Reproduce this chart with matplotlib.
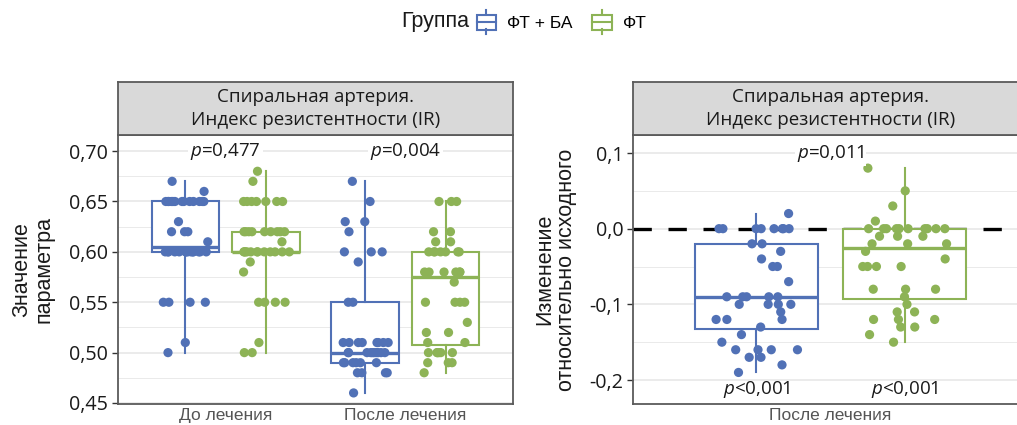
import numpy as np
import matplotlib
matplotlib.use("Agg")
import matplotlib.pyplot as plt
from matplotlib.legend_handler import HandlerBase
from matplotlib.patches import Rectangle, Patch
from matplotlib.lines import Line2D
from matplotlib.ticker import MultipleLocator, FuncFormatter

# ---- data -----------------------------------------------------------------
groups = ["ФТ + БА", "ФТ"]
timepoints = ["До лечения", "После лечения"]
panel_title = "Спиральная артерия.\nИндекс резистентности (IR)"

# IR values (level, number of patients at that level)
ir_before_ftba_levels = [0.50, 0.51, 0.55, 0.60, 0.61, 0.62, 0.63, 0.65, 0.66, 0.67]
ir_before_ftba_counts = [1, 1, 4, 14, 1, 3, 1, 13, 1, 1]

ir_before_ft_levels = [0.50, 0.51, 0.55, 0.58, 0.59, 0.60, 0.61, 0.62, 0.65, 0.67, 0.68]
ir_before_ft_counts = [2, 1, 4, 1, 1, 12, 1, 9, 7, 1, 1]

ir_after_ftba_levels = [0.46, 0.48, 0.49, 0.50, 0.51, 0.55, 0.59, 0.60, 0.62, 0.63, 0.65, 0.67]
ir_after_ftba_counts = [1, 4, 6, 10, 8, 2, 1, 3, 1, 2, 1, 1]

ir_after_ft_levels = [0.48, 0.49, 0.50, 0.51, 0.52, 0.53, 0.55, 0.57, 0.58, 0.60, 0.61, 0.62, 0.65]
ir_after_ft_counts = [1, 3, 6, 2, 2, 1, 4, 1, 6, 7, 2, 2, 3]

# change of IR relative to baseline
change_ftba_levels = [-0.19, -0.18, -0.17, -0.16, -0.15, -0.14, -0.13, -0.12, -0.11,
                      -0.10, -0.09, -0.07, -0.05, -0.04, -0.03, -0.02, 0.00, 0.02]
change_ftba_counts = [1, 1, 2, 4, 1, 1, 1, 3, 1, 4, 5, 1, 2, 1, 1, 2, 8, 1]

change_ft_levels = [-0.15, -0.14, -0.13, -0.12, -0.11, -0.10, -0.09, -0.08, -0.05,
                    -0.04, -0.03, -0.02, -0.01, 0.00, 0.01, 0.03, 0.05, 0.08]
change_ft_counts = [1, 1, 2, 3, 2, 1, 1, 3, 4, 1, 1, 3, 3, 10, 1, 1, 1, 1]

p_between_groups = ["0,477", "0,004"]
p_change_between = "0,011"
p_change_within = ["<0,001", "<0,001"]

# ---- style ----------------------------------------------------------------
colors = ["#5171b6", "#8db356"]
grid_col = "#e6e6e6"
frame_col = "#5a5a5a"
narrow = ["Liberation Sans Narrow", "Liberation Sans", "DejaVu Sans"]
plt.rcParams["font.family"] = ["Open Sans", "DejaVu Sans"]
plt.rcParams["mathtext.fontset"] = "custom"
plt.rcParams["mathtext.it"] = "Open Sans:italic"
plt.rcParams["mathtext.rm"] = "Open Sans"

W, H = 1017, 425
fig = plt.figure(figsize=(W / 100, H / 100), dpi=100)


def frac_box(x0, y0, x1, y1):
    return [x0 / W, 1 - y1 / H, (x1 - x0) / W, (y1 - y0) / H]


def expand(levels, counts):
    return np.repeat(np.asarray(levels, float), counts)


rng = np.random.default_rng(11)
dodge = 0.225
box_w = 0.375
jit = 0.13


def draw_group(ax, values, pos, color):
    ax.boxplot(values, positions=[pos], widths=box_w, whis=(0, 100),
               showfliers=False, showcaps=False, patch_artist=True,
               boxprops=dict(facecolor="white", edgecolor=color, linewidth=1.5),
               medianprops=dict(color=color, linewidth=2.4),
               whiskerprops=dict(color=color, linewidth=1.5),
               zorder=3, manage_ticks=False)
    xs = pos + rng.uniform(-jit, jit, len(values))
    ax.scatter(xs, values, s=44, color=color, edgecolors="none", zorder=4)


def style_axes(ax, open_right=False):
    ax.set_facecolor("white")
    ax.grid(axis="y", which="major", color=grid_col, linewidth=1.1, zorder=0)
    ax.grid(axis="y", which="minor", color=grid_col, linewidth=0.6, zorder=0)
    ax.grid(axis="x", visible=False)
    ax.set_axisbelow(True)
    for sp in ax.spines.values():
        sp.set_color(frame_col)
        sp.set_linewidth(1.3)
    if open_right:
        ax.spines["right"].set_visible(False)
    ax.tick_params(axis="y", which="major", length=4, width=1.0, color="#333333",
                   labelsize=14.2, labelcolor="#1a1a1a", pad=3)
    ax.tick_params(axis="y", which="minor", length=0)
    ax.tick_params(axis="x", length=0, labelsize=12.5, labelcolor="#555555", pad=3)
    for lab in ax.get_xticklabels():
        lab.set_fontfamily(["Liberation Sans", "DejaVu Sans"])


def strip(x0, x1, open_right=False):
    sax = fig.add_axes(frac_box(x0, 82, x1, 135))
    sax.set_facecolor("#d9d9d9")
    sax.set_xticks([])
    sax.set_yticks([])
    for sp in sax.spines.values():
        sp.set_color(frame_col)
        sp.set_linewidth(1.3)
    if open_right:
        sax.spines["right"].set_visible(False)
    sax.text(0.5, 0.5, panel_title, ha="center", va="center", fontsize=13.5,
             color="#1a1a1a", linespacing=1.3, transform=sax.transAxes)


comma = lambda d: FuncFormatter(lambda v, _: f"{v:.{d}f}".replace(".", ","))

# ---- left panel: IR before / after treatment --------------------------------
ax1 = fig.add_axes(frac_box(118, 135, 513, 404))
before = [expand(ir_before_ftba_levels, ir_before_ftba_counts),
          expand(ir_before_ft_levels, ir_before_ft_counts)]
after = [expand(ir_after_ftba_levels, ir_after_ftba_counts),
         expand(ir_after_ft_levels, ir_after_ft_counts)]
for ci, series in enumerate([before, after]):
    for gi, vals in enumerate(series):
        draw_group(ax1, vals, ci + 1 + (gi * 2 - 1) * dodge, colors[gi])
ax1.set_xlim(0.4, 2.6)
ax1.set_ylim(0.449, 0.716)
ax1.set_xticks([1, 2])
ax1.set_xticklabels(timepoints)
ax1.yaxis.set_major_locator(MultipleLocator(0.05))
ax1.yaxis.set_minor_locator(MultipleLocator(0.025))
ax1.yaxis.set_major_formatter(comma(2))
style_axes(ax1)
for ci, p in enumerate(p_between_groups):
    ax1.text(ci + 1, 0.70, f"$p$={p}", ha="center", va="center", fontsize=13.5,
             color="#1a1a1a", zorder=5,
             bbox=dict(facecolor="white", edgecolor="none", pad=1.5))
ax1.set_ylabel("Значение\nпараметра", fontsize=15.5, color="#1a1a1a",
               family=["Liberation Sans", "DejaVu Sans"], linespacing=1.05)
ax1.yaxis.set_label_coords(-0.215, 0.5)
ax1.yaxis.label.set_va("center")
strip(118, 513)

# ---- right panel: change relative to baseline ------------------------------
ax2 = fig.add_axes(frac_box(633, 135, 1028, 404))
changes = [expand(change_ftba_levels, change_ftba_counts),
           expand(change_ft_levels, change_ft_counts)]
ax2.axhline(0, color="black", linewidth=2.4, dashes=(5.5, 5.0), zorder=2)
for gi, vals in enumerate(changes):
    draw_group(ax2, vals, 1 + (gi * 2 - 1) * dodge, colors[gi])
ax2.set_xlim(0.4, 1.6)
ax2.set_ylim(-0.2317, 0.1238)
ax2.set_xticks([1])
ax2.set_xticklabels([timepoints[1]])
ax2.yaxis.set_major_locator(MultipleLocator(0.1))
ax2.yaxis.set_minor_locator(MultipleLocator(0.05))
ax2.yaxis.set_major_formatter(FuncFormatter(
    lambda v, _: f"{v:.1f}".replace(".", ",").replace("−", "-")))
style_axes(ax2, open_right=True)
ax2.text(1, 0.10, f"$p$={p_change_between}", ha="center", va="center",
         fontsize=13.5, color="#1a1a1a", zorder=5,
         bbox=dict(facecolor="white", edgecolor="none", pad=1.5))
for gi, p in enumerate(p_change_within):
    ax2.text(1 + (gi * 2 - 1) * dodge, -0.2125, f"$p${p}", ha="center",
             va="center", fontsize=13.5, color="#1a1a1a", zorder=5)
ax2.set_ylabel("Изменение\nотносительно исходного", fontsize=15.5, color="#1a1a1a",
               family=["Liberation Sans", "DejaVu Sans"], linespacing=1.05)
ax2.yaxis.set_label_coords(-0.195, 0.5)
ax2.yaxis.label.set_va("center")
strip(633, 1028, open_right=True)

# ---- legend ------------------------------------------------------------------
class BoxKey(HandlerBase):
    def create_artists(self, legend, orig_handle, xdescent, ydescent,
                       width, height, fontsize, trans):
        c = orig_handle.get_edgecolor()
        x0, y0 = -xdescent, -ydescent
        bw, bh = width * 0.95, height * 0.64
        bx = x0 + (width - bw) / 2
        by = y0 + (height - bh) / 2
        xc = x0 + width / 2
        arts = [
            Rectangle((bx, by), bw, bh, facecolor="white", edgecolor=c, lw=1.5),
            Line2D([bx, bx + bw], [by + bh / 2] * 2, color=c, lw=1.5),
            Line2D([xc, xc], [by + bh, y0 + height], color=c, lw=1.5),
            Line2D([xc, xc], [y0, by], color=c, lw=1.5),
        ]
        for a in arts:
            a.set_transform(trans)
        return arts


handles = [Patch(edgecolor=c, facecolor="white") for c in colors]
fig.text(469 / W, 1 - 22 / H, "Группа", ha="right", va="center", fontsize=15.5,
         family=narrow, color="#1a1a1a")
fig.legend(handles, groups, loc="center left", bbox_to_anchor=(476 / W, 1 - 22 / H),
           ncol=2, frameon=False, handler_map={Patch: BoxKey()},
           handlelength=1.2, handleheight=1.7, handletextpad=0.6,
           columnspacing=1.1, borderaxespad=0, borderpad=0,
           prop=dict(family=narrow, size=12.5))

fig.savefig("out.png", dpi=100, facecolor="white")
